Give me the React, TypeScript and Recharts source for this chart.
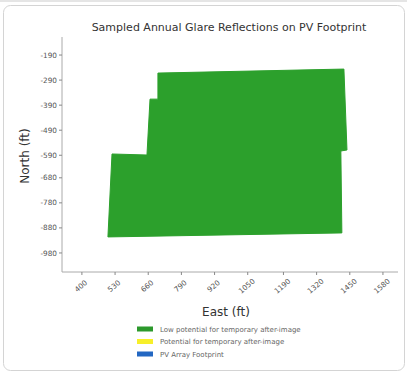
import React from 'react';
import { ComposedChart, Scatter, XAxis, YAxis, Polygon } from 'recharts';

// PV footprint outline vertices (ft)
const eastFt = [698, 1427, 1439, 1415, 1419, 502, 518, 655, 667, 698];
const northFt = [-262, -246, -569, -573, -900, -916, -585, -589, -366, -366];

const xTicks = [400, 530, 660, 790, 920, 1050, 1190, 1320, 1450, 1580];
const yTicks = [-190, -290, -390, -490, -590, -680, -780, -880, -980];

const legendLabels = [
  'Low potential for temporary after-image',
  'Potential for temporary after-image',
  'PV Array Footprint',
];
const legendColors = ['#2c992c', '#f7ef2a', '#2367c2'];

const footprint = eastFt.map((e, i) => ({ east: e, north: northFt[i] }));

const FONT = '"DejaVu Sans", sans-serif';

const XTick = (props: any) => {
  const { x, y, payload } = props;
  return (
    <text
      x={0}
      y={0}
      transform={`translate(${x - 1},${y + 9}) rotate(-40)`}
      textAnchor="middle"
      dominantBaseline="central"
      fontSize={7.3}
      fontFamily={FONT}
      fill="#555"
    >
      {payload.value}
    </text>
  );
};

export default function App() {
  return (
    <div style={{ position: 'absolute', left: 0, top: 0, width: 407, height: 374, background: '#fff', fontFamily: FONT }}>
      <svg width={407} height={374} style={{ position: 'absolute', left: 0, top: 0 }}>
        <line x1={0} y1={1} x2={407} y2={1} stroke="#ddd" strokeWidth={1.5} />
        <rect x={3.5} y={5.5} width={401} height={365} rx={7} fill="#fff" stroke="#d4d4d4" />
      </svg>
      <div style={{ position: 'absolute', left: 0, top: 0 }}>
        <ComposedChart width={407} height={374} margin={{ top: 37, right: 9, left: 0, bottom: 0 }}>
          <XAxis
            type="number"
            dataKey="east"
            domain={[322, 1639]}
            ticks={xTicks}
            interval={0}
            allowDataOverflow
            height={102}
            tickSize={3}
            tick={<XTick />}
            axisLine={{ stroke: '#aaa' }}
            tickLine={{ stroke: '#888' }}
          />
          <YAxis
            type="number"
            dataKey="north"
            domain={[-1056, -118]}
            ticks={yTicks}
            interval={0}
            allowDataOverflow
            width={62}
            tickSize={3}
            tickMargin={2}
            tick={{ fontSize: 7.3, fill: '#555', fontFamily: FONT }}
            axisLine={{ stroke: '#aaa' }}
            tickLine={{ stroke: '#888' }}
          />
          <Scatter
            data={footprint}
            isAnimationActive={false}
            fill="#2ca02c"
            lineType="joint"
            line={(p: any) => (
              <Polygon points={p.points} fill="#2ca02c" stroke="#2ca02c" strokeWidth={1} />
            )}
            shape={() => <g />}
          />
        </ComposedChart>
      </div>
      <svg width={407} height={374} style={{ position: 'absolute', left: 0, top: 0, pointerEvents: 'none' }}>
        <text x={229} y={31} textAnchor="middle" fontSize={11} fill="#333" fontFamily={FONT}>
          Sampled Annual Glare Reflections on PV Footprint
        </text>
        <text x={0} y={0} transform="translate(29,156) rotate(-90)" textAnchor="middle" fontSize={12} fill="#333" fontFamily={FONT}>
          North (ft)
        </text>
        <text x={226} y={316} textAnchor="middle" fontSize={12} fill="#333" fontFamily={FONT}>
          East (ft)
        </text>
        {legendLabels.map((lab, i) => {
          const cy = 329 + i * 12.5;
          return (
            <g key={lab}>
              <rect x={137} y={cy - 2.5} width={16} height={5} fill={legendColors[i]} />
              <text x={160} y={cy + 2.5} fontSize={7} fill="#666" fontFamily={FONT}>
                {lab}
              </text>
            </g>
          );
        })}
      </svg>
    </div>
  );
}
